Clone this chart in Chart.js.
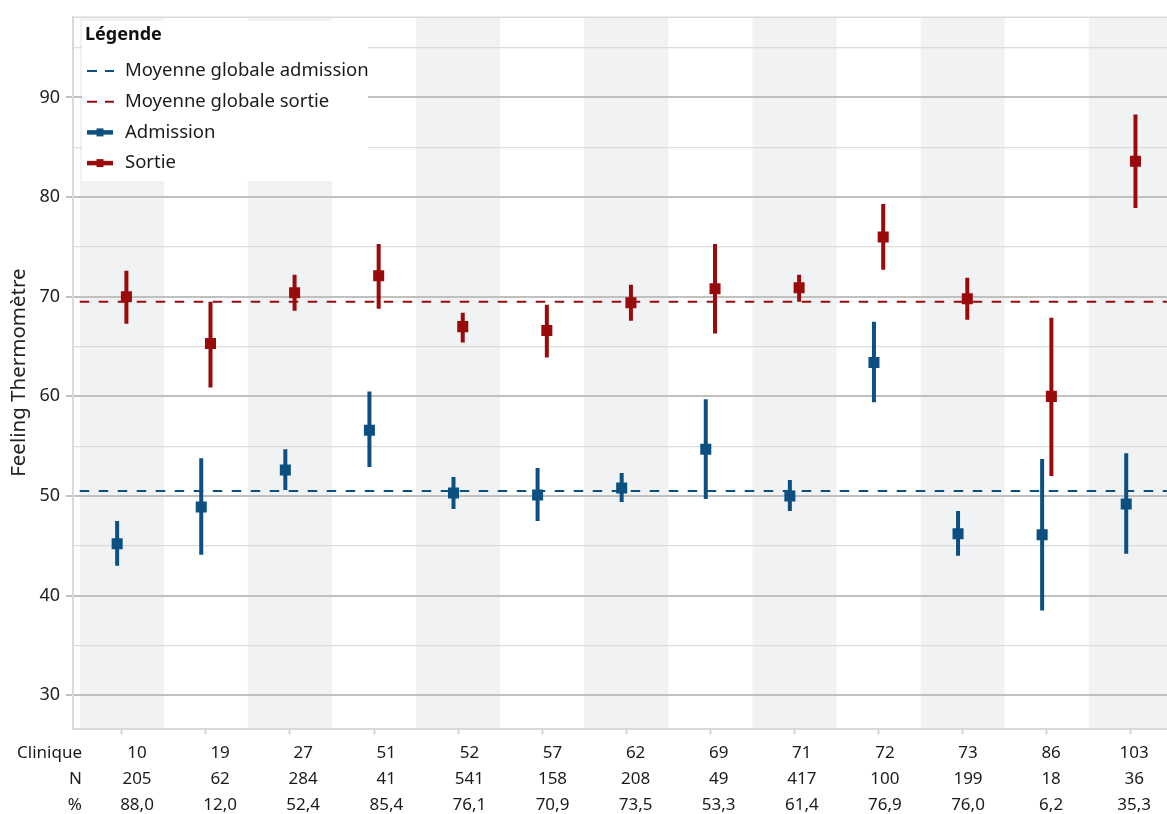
<!DOCTYPE html>
<html>
<head>
<meta charset="utf-8">
<script src="https://cdn.jsdelivr.net/npm/chart.js@4.4.1/dist/chart.umd.min.js"></script>
<style>
    html, body { margin: 0; padding: 0; background: #fff; }
    #wrap { width: 1167px; height: 814px; position: relative; }
</style>
</head>
<body>
<div id="wrap"><canvas id="Chart"></canvas></div>
<script>
// Données
const cliniques = ['10', '19', '27', '51', '52', '57', '62', '69', '71', '72', '73', '86', '103'];
const effectifs = ['205', '62', '284', '41', '541', '158', '208', '49', '417', '100', '199', '18', '36'];
const pourcents = ['88,0', '12,0', '52,4', '85,4', '76,1', '70,9', '73,5', '53,3', '61,4', '76,9', '76,0', '6,2', '35,3'];

const admission     = [45.2, 48.9, 52.6, 56.6, 50.3, 50.1, 50.8, 54.7, 50.0, 63.4, 46.2, 46.1, 49.2];
const admissionBas  = [43.0, 44.1, 50.6, 52.9, 48.7, 47.5, 49.4, 49.7, 48.5, 59.4, 44.0, 38.5, 44.2];
const admissionHaut = [47.5, 53.8, 54.7, 60.5, 51.9, 52.8, 52.3, 59.7, 51.6, 67.5, 48.5, 53.7, 54.3];

const sortie     = [70.0, 65.3, 70.4, 72.1, 67.0, 66.6, 69.4, 70.8, 70.9, 76.0, 69.8, 60.0, 83.6];
const sortieBas  = [67.3, 60.9, 68.6, 68.8, 65.4, 63.9, 67.6, 66.3, 69.5, 72.7, 67.7, 52.0, 78.9];
const sortieHaut = [72.6, 69.5, 72.2, 75.3, 68.4, 69.2, 71.2, 75.3, 72.2, 79.3, 71.9, 67.9, 88.3];

const moyenneAdmission = 50.5;
const moyenneSortie = 69.5;
const yTicks = [30, 40, 50, 60, 70, 80, 90];

const BLEU = '#0b5080';
const ROUGE = '#9a0a0a';
const POLICE = "'Noto Sans', sans-serif";
const X_MIN = -0.58, X_MAX = 12.43;
const DECALAGE = 0.055; // écart admission / sortie dans une clinique

const pts = (vals, d) => vals.map((v, i) => ({x: i + d, y: v}));
const barres = (bas, haut, d) => bas.map((b, i) => ({x: i + d, y: [b, haut[i]]}));

// Bandes grises alternées + bord haut
const fondPlugin = {
    id: 'fond',
    beforeDraw(chart) {
        const {ctx, chartArea, scales: {x}} = chart;
        ctx.save();
        ctx.fillStyle = '#f1f2f4';
        cliniques.forEach((c, i) => {
            if (i % 2) return;
            const l = Math.max(x.getPixelForValue(i - 0.5), chartArea.left);
            const r = Math.min(x.getPixelForValue(i + 0.5), chartArea.right);
            ctx.fillRect(l, chartArea.top + 1, r - l, chartArea.bottom - chartArea.top - 1);
        });
        ctx.strokeStyle = '#dadada';
        ctx.lineWidth = 1.5;
        ctx.beginPath();
        ctx.moveTo(chartArea.left - 1, chartArea.top + 0.5);
        ctx.lineTo(chartArea.right, chartArea.top + 0.5);
        ctx.stroke();
        ctx.restore();
    }
};

// Tableau sous l'axe : Clinique / N / %
const tableauPlugin = {
    id: 'tableau',
    afterDraw(chart) {
        const {ctx} = chart;
        const lignes = [['Clinique', cliniques, 753], ['N', effectifs, 779], ['%', pourcents, 805]];
        ctx.save();
        ctx.font = '17px ' + POLICE;
        ctx.fillStyle = '#1a1a1a';
        ctx.textBaseline = 'middle';
        lignes.forEach(([titre, vals, y]) => {
            ctx.textAlign = 'right';
            ctx.fillText(titre, 82, y);
            ctx.textAlign = 'center';
            vals.forEach((v, i) => ctx.fillText(v, 137 + i * 83.1, y));
        });
        ctx.restore();
    }
};

// Légende encadrée en haut à gauche
const legendePlugin = {
    id: 'legende',
    afterDraw(chart) {
        const {ctx} = chart;
        ctx.save();
        ctx.fillStyle = '#fff';
        ctx.fillRect(82, 21, 286, 160);
        ctx.fillStyle = '#111';
        ctx.textBaseline = 'middle';
        ctx.textAlign = 'left';
        ctx.font = 'bold 18px ' + POLICE;
        ctx.fillText('Légende', 85, 35);
        const items = [
            ['Moyenne globale admission', BLEU, true],
            ['Moyenne globale sortie', ROUGE, true],
            ['Admission', BLEU, false],
            ['Sortie', ROUGE, false]
        ];
        ctx.font = '18.5px ' + POLICE;
        items.forEach(([txt, col, pointille], k) => {
            const y = 71 + k * 30.7;
            ctx.strokeStyle = col;
            ctx.fillStyle = col;
            if (pointille) {
                ctx.lineWidth = 2;
                ctx.setLineDash([10, 8]);
                ctx.beginPath();
                ctx.moveTo(87, y);
                ctx.lineTo(114, y);
                ctx.stroke();
                ctx.setLineDash([]);
            } else {
                ctx.lineWidth = 4.5;
                ctx.beginPath();
                ctx.moveTo(87, y);
                ctx.lineTo(113, y);
                ctx.stroke();
                ctx.fillRect(96.5, y - 4, 7, 8);
            }
            ctx.fillStyle = '#1a1a1a';
            ctx.fillText(txt, 125, y);
        });
        ctx.restore();
    }
};

const context = document.getElementById('Chart').getContext('2d');

const data = {
    datasets: [
        {
            type: 'line',
            label: 'Moyenne globale admission',
            data: [{x: -0.5, y: moyenneAdmission}, {x: X_MAX, y: moyenneAdmission}],
            borderColor: BLEU,
            borderWidth: 2,
            borderDash: [9.5, 9.5],
            pointRadius: 0,
            order: 5
        },
        {
            type: 'line',
            label: 'Moyenne globale sortie',
            data: [{x: -0.5, y: moyenneSortie}, {x: X_MAX, y: moyenneSortie}],
            borderColor: ROUGE,
            borderWidth: 2,
            borderDash: [9.5, 9.5],
            pointRadius: 0,
            order: 5
        },
        {
            type: 'bar',
            label: 'IC admission',
            data: barres(admissionBas, admissionHaut, -DECALAGE),
            backgroundColor: BLEU,
            grouped: false,
            maxBarThickness: 4,
            order: 3
        },
        {
            type: 'bar',
            label: 'IC sortie',
            data: barres(sortieBas, sortieHaut, DECALAGE),
            backgroundColor: ROUGE,
            grouped: false,
            maxBarThickness: 4,
            order: 3
        },
        {
            type: 'scatter',
            label: 'Admission',
            data: pts(admission, -DECALAGE),
            backgroundColor: BLEU,
            pointStyle: 'rect',
            pointRadius: 7.8,
            pointBorderWidth: 0,
            order: 1
        },
        {
            type: 'scatter',
            label: 'Sortie',
            data: pts(sortie, DECALAGE),
            backgroundColor: ROUGE,
            pointStyle: 'rect',
            pointRadius: 7.8,
            pointBorderWidth: 0,
            order: 1
        }
    ]
};

const options = {
    responsive: true,
    maintainAspectRatio: false,
    animation: false,
    layout: {autoPadding: false, padding: {top: 14, left: 0, right: 0, bottom: 0}},
    scales: {
        x: {
            type: 'linear',
            min: X_MIN,
            max: X_MAX,
            offset: false,
            afterBuildTicks: (scale) => { scale.ticks = cliniques.map((c, i) => ({value: i})); },
            afterFit: (scale) => { scale.height = 814 - 14 - 714.5; },
            ticks: {display: false},
            grid: {offset: false, drawOnChartArea: false, drawTicks: true, tickLength: 6, tickColor: '#d4d4d4', tickWidth: 2},
            border: {color: '#d9d9d9', width: 2}
        },
        y: {
            min: 26.66,
            max: 98.1,
            afterBuildTicks: (scale) => {
                const t = [];
                for (let v = 30; v <= 95; v += 5) t.push({value: v});
                scale.ticks = t;
            },
            afterFit: (scale) => { scale.width = 73; },
            ticks: {
                padding: 6,
                color: '#222',
                font: {family: POLICE, size: 18},
                callback: (v) => yTicks.includes(v) ? String(v) : ''
            },
            grid: {
                color: (c) => yTicks.includes(c.tick.value) ? '#c0c0c0' : '#dcdcdc',
                lineWidth: (c) => yTicks.includes(c.tick.value) ? 2 : 1.2,
                tickColor: (c) => yTicks.includes(c.tick.value) ? '#c0c0c0' : 'rgba(0,0,0,0)',
                tickLength: 7
            },
            border: {color: '#d9d9d9', width: 2},
            title: {
                display: true,
                text: 'Feeling Thermomètre',
                color: '#222',
                font: {family: POLICE, size: 20.5},
                padding: {top: 7, bottom: 0}
            }
        }
    },
    plugins: {
        legend: {display: false},
        tooltip: {enabled: false}
    }
};

var myChart = new Chart(context, {
    type: 'scatter',
    data: data,
    options: options,
    plugins: [fondPlugin, tableauPlugin, legendePlugin]
});
</script>
</body>
</html>
